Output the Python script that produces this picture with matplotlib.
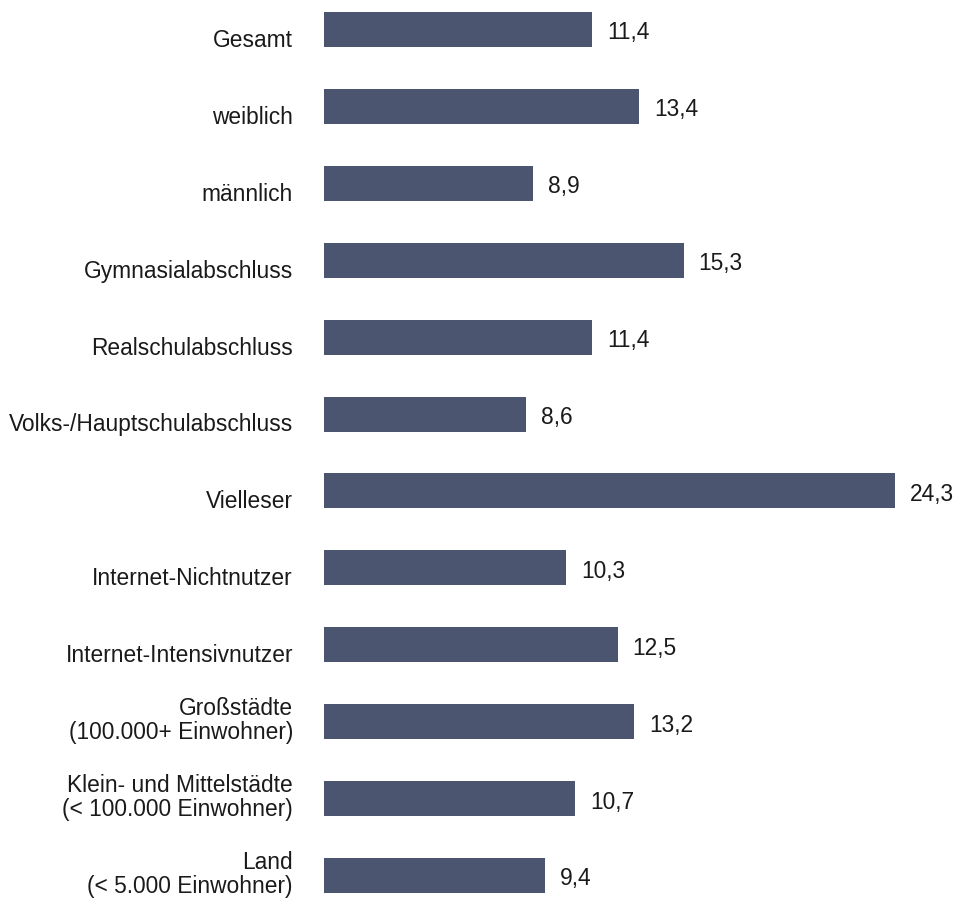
import matplotlib
matplotlib.use("Agg")
import matplotlib.pyplot as plt

plt.rcParams['font.family'] = ['Liberation Sans', 'DejaVu Sans']

labels = ["Gesamt", "weiblich", "männlich", "Gymnasialabschluss", "Realschulabschluss",
          "Volks-/Hauptschulabschluss", "Vielleser", "Internet-Nichtnutzer",
          "Internet-Intensivnutzer", "Großstädte\n(100.000+ Einwohner)",
          "Klein- und Mittelstädte\n(< 100.000 Einwohner)", "Land\n(< 5.000 Einwohner)"]
values = [11.4, 13.4, 8.9, 15.3, 11.4, 8.6, 24.3, 10.3, 12.5, 13.2, 10.7, 9.4]

bar_color = "#4b5570"
bar_h = 35 / 76.9

fig = plt.figure(figsize=(9.54, 8.98), dpi=100)
ax = fig.add_axes([324 / 954, 0, 611 / 954, 1])

pos = list(range(len(values)))
ax.barh(pos, values, height=bar_h, color=bar_color)
ax.set_xlim(0, 26)
ax.set_ylim((898 - 29.5) / 76.9, -29.5 / 76.9)

for i, (lab, v) in enumerate(zip(labels, values)):
    ax.annotate(lab, xy=(0, i + bar_h / 2), xytext=(-31, 0), textcoords="offset pixels",
                ha="right", va="baseline", fontsize=16.4, linespacing=1.05, color="#1a1a1a")
    ax.annotate(f"{v:.1f}".replace(".", ","), xy=(v, i), xytext=(15, -10),
                textcoords="offset pixels", ha="left", va="baseline",
                fontsize=16.4, color="#1a1a1a")

ax.axis("off")
fig.savefig("out.png", dpi=100)
